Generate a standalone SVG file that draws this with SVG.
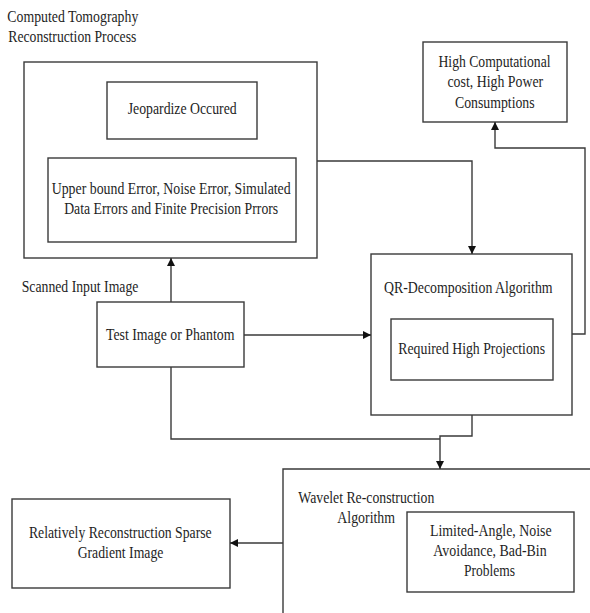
<svg xmlns="http://www.w3.org/2000/svg" width="590" height="613" viewBox="0 0 590 613">
<style>
  .box { fill: #ffffff; stroke: #3a3a3a; stroke-width: 1.4; }
  .t { font-family: "Liberation Serif", "Times New Roman", serif; font-size: 16.5px; fill: #1e1e1e; }
  .c { text-anchor: middle; }
  .ln { fill: none; stroke: #3a3a3a; stroke-width: 1.4; }
</style>
<defs>
  <marker id="ah" viewBox="0 0 10 10" refX="10" refY="5" markerWidth="8" markerHeight="8" markerUnits="userSpaceOnUse" orient="auto">
    <path d="M0,0 L10,5 L0,10 z" fill="#111"/>
  </marker>
</defs>
<rect width="590" height="613" fill="#ffffff"/>

<g id="title">
  <text class="t" x="7.3" y="22" textLength="131" lengthAdjust="spacingAndGlyphs">Computed Tomography</text>
  <text class="t" x="8.3" y="42" textLength="128" lengthAdjust="spacingAndGlyphs">Reconstruction Process</text>
</g>

<g id="ct-process">
  <rect class="box" x="24" y="62" width="293" height="196"/>
</g>
<g id="jeopardize">
  <rect class="box" x="107" y="82" width="150" height="57"/>
  <text class="t c" x="182.2" y="114" textLength="109" lengthAdjust="spacingAndGlyphs">Jeopardize Occured</text>
</g>
<g id="errors">
  <rect class="box" x="48" y="158" width="248" height="84"/>
  <text class="t c" x="171.2" y="194" textLength="239" lengthAdjust="spacingAndGlyphs">Upper bound Error, Noise Error, Simulated</text>
  <text class="t c" x="171.2" y="214" textLength="214" lengthAdjust="spacingAndGlyphs">Data Errors and Finite Precision Prrors</text>
</g>

<g id="high-cost">
  <rect class="box" x="423" y="42" width="144" height="80"/>
  <text class="t c" x="494.5" y="67" textLength="112" lengthAdjust="spacingAndGlyphs">High Computational</text>
  <text class="t c" x="495.3" y="87" textLength="95.7" lengthAdjust="spacingAndGlyphs">cost, High Power</text>
  <text class="t c" x="494.8" y="108" textLength="79.7" lengthAdjust="spacingAndGlyphs">Consumptions</text>
</g>

<g id="scanned-label">
  <text class="t" x="21.7" y="292" textLength="116.7" lengthAdjust="spacingAndGlyphs">Scanned Input Image</text>
</g>
<g id="test-image">
  <rect class="box" x="97" y="302" width="147" height="65"/>
  <text class="t c" x="170.2" y="339.5" textLength="128.5" lengthAdjust="spacingAndGlyphs">Test Image or Phantom</text>
</g>

<g id="qr">
  <rect class="box" x="371" y="254" width="201" height="161"/>
  <text class="t c" x="468.3" y="293" textLength="168.7" lengthAdjust="spacingAndGlyphs">QR-Decomposition Algorithm</text>
</g>
<g id="projections">
  <rect class="box" x="391" y="319" width="162" height="61"/>
  <text class="t c" x="471.7" y="354" textLength="146.7" lengthAdjust="spacingAndGlyphs">Required High Projections</text>
</g>

<g id="wavelet">
  <path class="ln" d="M283,613 L283,469 L591,469"/>
  <text class="t c" x="366.3" y="503" textLength="136" lengthAdjust="spacingAndGlyphs">Wavelet Re-construction</text>
  <text class="t c" x="366.2" y="523" textLength="57.7" lengthAdjust="spacingAndGlyphs">Algorithm</text>
</g>
<g id="limited">
  <rect class="box" x="407" y="512" width="167" height="80"/>
  <text class="t c" x="490.8" y="536" textLength="121.7" lengthAdjust="spacingAndGlyphs">Limited-Angle, Noise</text>
  <text class="t c" x="490" y="556" textLength="113.3" lengthAdjust="spacingAndGlyphs">Avoidance, Bad-Bin</text>
  <text class="t c" x="489.5" y="576" textLength="51" lengthAdjust="spacingAndGlyphs">Problems</text>
</g>

<g id="sparse">
  <rect class="box" x="12" y="499" width="218" height="89"/>
  <text class="t c" x="120.3" y="538" textLength="182.7" lengthAdjust="spacingAndGlyphs">Relatively Reconstruction Sparse</text>
  <text class="t c" x="120.5" y="558" textLength="85.7" lengthAdjust="spacingAndGlyphs">Gradient Image</text>
</g>

<g id="connectors">
  <path class="ln" d="M171,302 L171,258" marker-end="url(#ah)"/>
  <path class="ln" d="M317,161 L472,161 L472,254" marker-end="url(#ah)"/>
  <path class="ln" d="M244,335 L371,335" marker-end="url(#ah)"/>
  <path class="ln" d="M572,334 L585,334 L585,148 L495,148 L495,122" marker-end="url(#ah)"/>
  <path class="ln" d="M171,367 L171,439 L440,439"/>
  <path class="ln" d="M472,415 L472,436 L440,436 L440,469" marker-end="url(#ah)"/>
  <path class="ln" d="M283,543 L230,543" marker-end="url(#ah)"/>
</g>
</svg>
